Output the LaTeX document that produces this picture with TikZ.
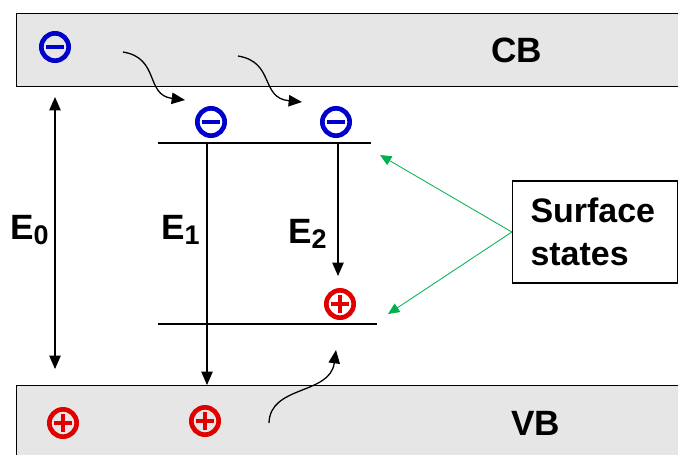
\documentclass[tikz,border=0pt]{standalone}
\usepackage{fontspec}
\setmainfont{Liberation Sans}
\usepackage{tikz}
\usetikzlibrary{arrows.meta,positioning}
\definecolor{eblue}{HTML}{0000CC}
\definecolor{hred}{HTML}{E00000}
\definecolor{sgreen}{HTML}{00B050}
\definecolor{bandgray}{HTML}{E6E6E6}
\newcommand{\Esub}[1]{E\raisebox{-1.6mm}{\fontsize{23}{23}\selectfont #1}}
\tikzset{>={Triangle[length=4mm,width=3.4mm]},band/.style={draw=black,line width=1.1pt,fill=bandgray,anchor=north west,minimum width=202.2mm,inner sep=0pt},lvl/.style={line width=1.1pt},arr/.style={->,line width=1.1pt},pointer/.style={-{Triangle[length=3.4mm,width=3mm]},draw=sgreen,line width=0.7pt},lbl/.style={font=\bfseries\fontsize{30}{36}\selectfont,inner sep=0pt,anchor=base west},note/.style={draw=black,line width=1.1pt,fill=white,minimum width=49.5mm,minimum height=30.6mm,text width=38.7mm,inner xsep=5.4mm,align=left,font=\bfseries\fontsize{29}{37}\selectfont},minus/.style={circle,draw=eblue,line width=1.4mm,minimum size=8.2mm,inner sep=0pt,path picture={\draw[eblue,line width=1.3mm] ([xshift=-2.6mm]path picture bounding box.center)--([xshift=2.6mm]path picture bounding box.center);}},plus/.style={circle,draw=hred,line width=1.4mm,minimum size=8.2mm,inner sep=0pt,path picture={\draw[hred,line width=1.3mm] ([xshift=-2.6mm]path picture bounding box.center)--([xshift=2.6mm]path picture bounding box.center) ([yshift=-2.6mm]path picture bounding box.center)--([yshift=2.6mm]path picture bounding box.center);}}}

\begin{document}
\begin{tikzpicture}[x=0.3mm,y=-0.3mm]
\path[use as bounding box,clip] (0,0) rectangle (678,454);
\node[band,minimum height=21.9mm] (cb) at (16,13) {};
\node[band,minimum height=25.5mm] (vb) at (16,385) {};
\node[lbl] (cbl) at (491,62) {CB};
\node[lbl] (vbl) at (511,435) {VB};
\node[minus] (n0) at (55,47) {};
\node[minus] (n1) at (211,122) {};
\node[minus] (n2) at (336,122) {};
\node[plus] (p0) at (63,423) {};
\node[plus] (p1) at (205,421) {};
\node[plus] (p2) at (340,304) {};
\coordinate (up1) at (158,143);
\coordinate (up2) at (371,143);
\coordinate (lo1) at (158,324);
\coordinate (lo2) at (377,324);
\draw[lvl] (up1)--(up2);
\draw[lvl] (lo1)--(lo2);
\coordinate (e0a) at (55,97);
\coordinate (e0b) at (55,369);
\coordinate (e1a) at (207,143);
\coordinate (e2a) at (338,143);
\coordinate (e2b) at (338,276);
\draw[arr,<->] (e0a)--(e0b);
\draw[arr] (e1a)--(e1a |- vb.north);
\draw[arr] (e2a)--(e2b);
\node[lbl] (e0l) at (10,239) {\Esub{0}};
\node[lbl] (e1l) at (161,239) {\Esub{1}};
\node[lbl] (e2l) at (288,243) {\Esub{2}};
\coordinate (w1a) at (123,52);
\coordinate (w1b) at (185,100);
\coordinate (w2a) at (238,56);
\coordinate (w2b) at (302,102);
\coordinate (w3a) at (269,423);
\coordinate (w3b) at (336,350);
\draw[arr] (w1a) .. controls (160,58) and (145,95) .. (w1b);
\draw[arr] (w2a) .. controls (275,62) and (260,98) .. (w2b);
\draw[arr] (w3a) .. controls (270,385) and (330,395) .. (w3b);
\node[note] (ss) at (595,232) {Surface\\states};
\coordinate (ssup) at (380,155);
\coordinate (sslo) at (388,314);
\draw[pointer] (ss.west)--(ssup);
\draw[pointer] (ss.west)--(sslo);
\end{tikzpicture}
\end{document}
